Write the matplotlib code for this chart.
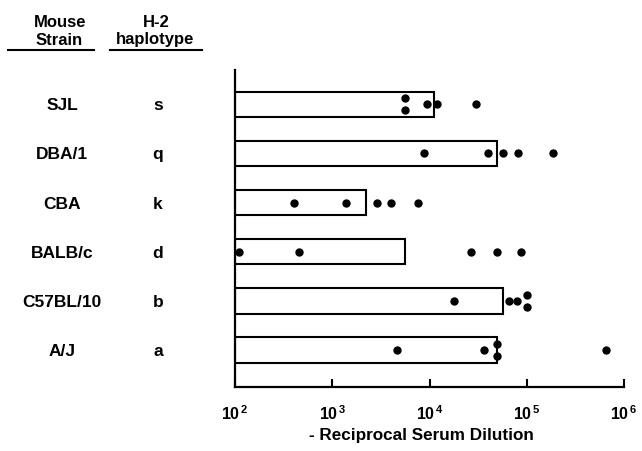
import matplotlib
matplotlib.use("Agg")
import matplotlib.pyplot as plt
from matplotlib.transforms import blended_transform_factory
from matplotlib.lines import Line2D
import numpy as np

# ---- data ----
strains = ["SJL", "DBA/1", "CBA", "BALB/c", "C57BL/10", "A/J"]
haplotypes = ["s", "q", "k", "d", "b", "a"]
bar_values = [11000, 50000, 2200, 5600, 57000, 50000]
sjl_pts = [5600, 5600, 9500, 12000, 30000]
dba_pts = [8800, 40000, 57000, 81000, 186000]
cba_pts = [400, 1400, 2900, 4000, 7600]
balb_pts = [110, 460, 27000, 50000, 88000]
c57_pts = [18000, 65000, 79000, 100000, 100000]
aj_pts = [4600, 36000, 50000, 50000, 650000]
point_sets = [sjl_pts, dba_pts, cba_pts, balb_pts, c57_pts, aj_pts]
tick_exponents = [2, 3, 4, 5, 6]
xlabel = "- Reciprocal Serum Dilution"

plt.rcParams["font.family"] = ["Liberation Sans", "DejaVu Sans"]
plt.rcParams["font.weight"] = "bold"
plt.rcParams["mathtext.fontset"] = "custom"
plt.rcParams["mathtext.rm"] = "Liberation Sans:bold"
plt.rcParams["mathtext.bf"] = "Liberation Sans:bold"
plt.rcParams["mathtext.it"] = "Liberation Sans:bold"

W, H = 642, 451
fig = plt.figure(figsize=(W / 100, H / 100), dpi=100)
ax = fig.add_axes([235 / W, 1 - 386.7 / H, (624 - 235) / W, (386.7 - 70) / H])

n = len(strains)
ypos = np.arange(n)[::-1]  # SJL at top
lo = 10 ** tick_exponents[0]

ax.barh(ypos, np.array(bar_values) - lo, left=lo, height=0.52,
        facecolor="white", edgecolor="black", linewidth=1.5, zorder=2)

for y, pts in zip(ypos, point_sets):
    vals = np.array(pts, dtype=float)
    ys = np.full(len(vals), float(y))
    # stack duplicate values vertically
    uniq, counts = np.unique(vals, return_counts=True)
    for u, c in zip(uniq, counts):
        if c > 1:
            idx = np.where(vals == u)[0]
            offs = (np.arange(c) - (c - 1) / 2) * 0.24
            ys[idx] = y + offs
    ax.plot(vals, ys, "o", color="black", markersize=5, zorder=3,
            linestyle="none")

ax.set_xscale("log")
ax.set_xlim(10 ** tick_exponents[0], 10 ** tick_exponents[-1])
ax.set_ylim(-0.75, n - 1 + 0.70)
ax.set_yticks([])
ax.set_xticks([10 ** e for e in tick_exponents])
ax.set_xticklabels([f"10$^{{\\,{e}}}$" for e in tick_exponents],
                   fontsize=11.5, fontweight="bold")
ax.xaxis.set_minor_locator(matplotlib.ticker.NullLocator())
ax.tick_params(axis="x", direction="in", length=6, width=1.5, pad=13)
for s in ["top", "right"]:
    ax.spines[s].set_visible(False)
for s in ["left", "bottom"]:
    ax.spines[s].set_linewidth(1.6)

fig.text(421 / W, 1 - 440 / H, xlabel, ha="center", va="baseline",
         fontsize=12.3, fontweight="bold")

# row labels
tr = blended_transform_factory(fig.transFigure, ax.transData)
for y, s, h in zip(ypos, strains, haplotypes):
    ax.text(62 / W, y, s, transform=tr, ha="center", va="center_baseline",
            fontsize=12.5, fontweight="bold")
    ax.text(158 / W, y, h, transform=tr, ha="center", va="center_baseline",
            fontsize=12.5, fontweight="bold")

# headers
fig.text(60 / W, 1 - 27 / H, "Mouse", ha="center", va="baseline",
         fontsize=12, fontweight="bold")
fig.text(59 / W, 1 - 45 / H, "Strain", ha="center", va="baseline",
         fontsize=12, fontweight="bold")
fig.text(156 / W, 1 - 27 / H, "H-2", ha="center", va="baseline",
         fontsize=12, fontweight="bold")
fig.text(155 / W, 1 - 44 / H, "haplotype", ha="center", va="baseline",
         fontsize=12, fontweight="bold")
for x0, x1 in [(8, 94), (110, 202)]:
    fig.add_artist(Line2D([x0 / W, x1 / W], [1 - 50 / H, 1 - 50 / H],
                          transform=fig.transFigure, color="black", lw=1.5))

fig.savefig("out.png", dpi=100)
